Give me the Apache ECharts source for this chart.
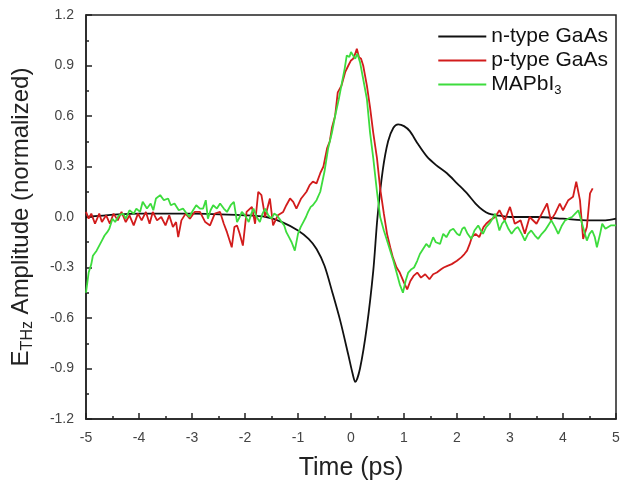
<!DOCTYPE html>
<html>
<head>
<meta charset="utf-8">
<script src="https://cdn.jsdelivr.net/npm/echarts@6/dist/echarts.min.js"></script>
<style>
  html, body { margin: 0; padding: 0; background: #fff; }
  #chart { width: 622px; height: 484px; }
</style>
</head>
<body>
<div id="chart"></div>
<script>
/* values */
var xTicks = [-5, -4, -3, -2, -1, 0, 1, 2, 3, 4, 5];
var yTicks = [-1.2, -0.9, -0.6, -0.3, 0.0, 0.3, 0.6, 0.9, 1.2];

var nTypeT = [-5, -4, -3, -2, -1.6, -1.3, -1.0, -0.8, -0.65, -0.5, -0.35, -0.2, -0.05, 0.03, 0.08, 0.17, 0.3, 0.42, 0.5, 0.6, 0.7, 0.8, 0.89, 1.0, 1.11, 1.25, 1.43, 1.6, 1.81, 2.0, 2.19, 2.35, 2.49, 2.6, 2.75, 3.0, 3.5, 4.0, 4.5, 4.8, 5.0];
var nTypeA = [0.0, 0.02, 0.02, 0.01, 0.0, -0.03, -0.08, -0.13, -0.19, -0.29, -0.45, -0.62, -0.82, -0.93, -0.98, -0.9, -0.65, -0.32, 0.0, 0.28, 0.45, 0.53, 0.55, 0.54, 0.51, 0.44, 0.36, 0.31, 0.26, 0.2, 0.14, 0.08, 0.04, 0.02, 0.01, 0.0, 0.0, -0.01, -0.02, -0.02, -0.01];

var pTypeT = [-5.0, -4.95, -4.9, -4.83, -4.75, -4.7, -4.62, -4.55, -4.48, -4.4, -4.33, -4.25, -4.18, -4.1, -4.02, -3.95, -3.87, -3.8, -3.74, -3.66, -3.58, -3.5, -3.43, -3.36, -3.3, -3.26, -3.2, -3.12, -3.04, -2.95, -2.85, -2.75, -2.66, -2.57, -2.47, -2.4, -2.34, -2.25, -2.2, -2.15, -2.1, -2.04, -1.97, -1.87, -1.81, -1.75, -1.69, -1.62, -1.53, -1.47, -1.38, -1.28, -1.22, -1.15, -1.09, -1.03, -0.94, -0.84, -0.78, -0.72, -0.65, -0.58, -0.52, -0.45, -0.4, -0.36, -0.3, -0.25, -0.18, -0.11, -0.05, 0.0, 0.04, 0.08, 0.11, 0.15, 0.19, 0.23, 0.3, 0.36, 0.42, 0.49, 0.55, 0.62, 0.68, 0.74, 0.79, 0.86, 0.92, 1.0, 1.06, 1.12, 1.18, 1.25, 1.32, 1.4, 1.48, 1.55, 1.62, 1.7, 1.75, 1.82, 1.9, 2.0, 2.08, 2.14, 2.19, 2.24, 2.28, 2.35, 2.42, 2.5, 2.55, 2.62, 2.72, 2.8, 2.9, 3.0, 3.09, 3.2, 3.28, 3.37, 3.5, 3.6, 3.7, 3.77, 3.85, 3.94, 4.0, 4.1, 4.19, 4.25, 4.32, 4.38, 4.45, 4.51, 4.56];
var pTypeA = [0.03, -0.01, 0.02, -0.04, 0.02, -0.03, 0.01, -0.04, 0.02, -0.02, 0.03, -0.03, 0.01, -0.05, 0.02, -0.02, 0.03, -0.04, 0.03, -0.02, 0.0, -0.05, 0.01, -0.06, -0.03, -0.12, -0.02, 0.02, -0.01, 0.03, 0.03, -0.03, -0.05, 0.02, 0.03, -0.04, -0.09, -0.18, -0.06, -0.05, -0.1, -0.17, 0.03, 0.06, -0.04, 0.15, 0.13, 0.0, 0.11, -0.05, 0.01, 0.03, 0.07, 0.11, 0.09, 0.05, 0.11, 0.15, 0.19, 0.21, 0.2, 0.26, 0.3, 0.41, 0.45, 0.53, 0.6, 0.74, 0.78, 0.86, 0.9, 0.93, 0.94, 0.97, 1.0, 0.95, 0.94, 0.9, 0.78, 0.65, 0.5, 0.35, 0.17, 0.02, -0.1, -0.18, -0.24, -0.3, -0.33, -0.39, -0.43, -0.38, -0.35, -0.33, -0.36, -0.34, -0.37, -0.34, -0.33, -0.31, -0.3, -0.29, -0.28, -0.26, -0.24, -0.22, -0.2, -0.16, -0.12, -0.1, -0.12, -0.06, -0.04, -0.02, 0.0, 0.04, -0.02, 0.06, -0.04, -0.02, -0.1, 0.0, -0.04, 0.02, 0.08, -0.02, 0.02, 0.08, 0.04, 0.1, 0.12, 0.21, 0.1, -0.13, -0.06, 0.14, 0.17];

var mapbiT = [-5.0, -4.95, -4.9, -4.87, -4.8, -4.75, -4.7, -4.65, -4.6, -4.56, -4.5, -4.45, -4.38, -4.3, -4.25, -4.18, -4.1, -4.05, -3.98, -3.93, -3.85, -3.78, -3.73, -3.68, -3.6, -3.53, -3.45, -3.4, -3.33, -3.25, -3.17, -3.1, -3.05, -2.98, -2.92, -2.85, -2.79, -2.74, -2.7, -2.65, -2.6, -2.53, -2.47, -2.4, -2.34, -2.27, -2.21, -2.15, -2.1, -2.06, -2.0, -1.93, -1.88, -1.84, -1.78, -1.72, -1.67, -1.62, -1.56, -1.5, -1.45, -1.4, -1.35, -1.31, -1.26, -1.22, -1.17, -1.12, -1.06, -1.0, -0.95, -0.9, -0.85, -0.81, -0.76, -0.72, -0.65, -0.58, -0.5, -0.43, -0.36, -0.3, -0.23, -0.17, -0.12, -0.08, -0.03, 0.0, 0.04, 0.08, 0.12, 0.17, 0.23, 0.3, 0.36, 0.42, 0.49, 0.55, 0.62, 0.68, 0.74, 0.8, 0.86, 0.92, 0.98, 1.03, 1.08, 1.14, 1.19, 1.25, 1.3, 1.36, 1.42, 1.48, 1.55, 1.6, 1.68, 1.74, 1.8, 1.87, 1.93, 2.0, 2.05, 2.1, 2.14, 2.2, 2.27, 2.33, 2.4, 2.45, 2.49, 2.55, 2.61, 2.67, 2.72, 2.76, 2.8, 2.85, 2.9, 2.97, 3.03, 3.1, 3.15, 3.22, 3.28, 3.34, 3.4, 3.47, 3.53, 3.6, 3.66, 3.72, 3.78, 3.85, 3.91, 3.98, 4.04, 4.1, 4.17, 4.23, 4.29, 4.36, 4.45, 4.5, 4.55, 4.6, 4.64, 4.7, 4.74, 4.8, 4.83, 4.9, 4.93, 5.0];
var mapbiA = [-0.45, -0.33, -0.28, -0.23, -0.2, -0.17, -0.14, -0.11, -0.09, -0.07, -0.01, -0.03, 0.01, 0.02, -0.01, 0.04, 0.02, 0.05, 0.03, 0.09, 0.05, 0.08, 0.04, 0.11, 0.13, 0.1, 0.11, 0.07, 0.08, 0.04, 0.05, 0.02, 0.0, 0.04, 0.07, 0.05, 0.05, 0.1, -0.01, 0.04, 0.07, 0.05, 0.08, 0.05, 0.03, 0.07, 0.09, -0.03, 0.0, 0.03, 0.01, -0.03, 0.02, 0.05, 0.0, -0.03, 0.02, 0.05, 0.01, -0.01, 0.02, 0.01, -0.01, -0.03, -0.05, -0.09, -0.12, -0.15, -0.2, -0.1, -0.06, -0.03, 0.0, 0.03, 0.06, 0.07, 0.1, 0.15, 0.27, 0.41, 0.5, 0.6, 0.7, 0.8, 0.88, 0.96, 0.95, 0.98, 0.96, 0.94, 0.97, 0.92, 0.82, 0.7, 0.5, 0.35, 0.15, 0.0, -0.08, -0.14, -0.2, -0.26, -0.33, -0.4, -0.45, -0.38, -0.33, -0.31, -0.3, -0.26, -0.22, -0.19, -0.16, -0.18, -0.12, -0.15, -0.16, -0.1, -0.12, -0.08, -0.07, -0.1, -0.11, -0.07, -0.06, -0.1, -0.13, -0.08, -0.05, -0.08, -0.1, -0.06, -0.04, -0.01, 0.02, -0.03, -0.08, -0.04, -0.02, -0.07, -0.1, -0.07, -0.06, -0.1, -0.14, -0.1, -0.08, -0.11, -0.13, -0.1, -0.08, -0.05, -0.02, -0.06, -0.1, -0.05, -0.02, -0.01, 0.0, 0.02, 0.04, -0.04, -0.14, -0.1, -0.08, -0.12, -0.18, -0.1, -0.04, -0.07, -0.08, -0.05, -0.04, -0.05];

function pairs(t, a) {
  var out = [];
  for (var i = 0; i < t.length; i++) out.push([t[i], a[i]]);
  return out;
}

var FONT = '"Liberation Sans", Arial, sans-serif';
var myChart = echarts.init(document.getElementById('chart'));

var option = {
  animation: false,
  backgroundColor: '#fff',
  textStyle: { fontFamily: FONT },
  grid: {
    left: 86, right: 6, top: 15, bottom: 65,
    outerBoundsMode: 'none',
    show: true, borderColor: '#222', borderWidth: 1.5
  },
  legend: {
    orient: 'vertical',
    right: 9, top: 21,
    icon: 'rect',
    itemWidth: 48, itemHeight: 2, itemGap: 3,
    textStyle: {
      fontFamily: FONT, fontSize: 21, color: '#111',
      rich: {
        b: { fontFamily: FONT, fontSize: 21, color: '#111' },
        sub: { fontFamily: FONT, fontSize: 13, color: '#111', verticalAlign: 'bottom', padding: [11, 0, 0, 0] }
      }
    },
    formatter: function (name) {
      if (name === 'MAPbI3') return '{b|MAPbI}{sub|3}';
      return name;
    },
    data: ['n-type GaAs', 'p-type GaAs', 'MAPbI3']
  },
  xAxis: {
    type: 'value',
    min: xTicks[0], max: xTicks[xTicks.length - 1], interval: 1,
    name: 'Time (ps)',
    nameLocation: 'middle', nameGap: 37,
    nameTextStyle: { fontFamily: FONT, fontSize: 25, color: '#222' },
    axisLine: { show: true, onZero: false, lineStyle: { color: '#222', width: 1.5 } },
    axisTick: { show: true, inside: true, length: 6, lineStyle: { color: '#222', width: 1.5 } },
    minorTick: { show: true, splitNumber: 2, length: 3, lineStyle: { color: '#222', width: 1.5 } },
    splitLine: { show: false },
    axisLabel: { fontFamily: FONT, fontSize: 14, color: '#444', margin: 12 }
  },
  yAxis: {
    type: 'value',
    min: yTicks[0], max: yTicks[yTicks.length - 1], interval: 0.3,
    name: 'E{sub|THz} Amplitude (normalized)',
    nameLocation: 'middle', nameGap: 50, nameRotate: 90,
    nameTextStyle: {
      fontFamily: FONT, fontSize: 24, color: '#222',
      rich: {
        sub: { fontFamily: FONT, fontSize: 16, color: '#222', verticalAlign: 'bottom', padding: [13, 0, 0, 0] }
      }
    },
    axisLine: { show: true, onZero: false, lineStyle: { color: '#222', width: 1.5 } },
    axisTick: { show: true, inside: true, length: 6, lineStyle: { color: '#222', width: 1.5 } },
    minorTick: { show: true, splitNumber: 2, length: 3, lineStyle: { color: '#222', width: 1.5 } },
    splitLine: { show: false },
    axisLabel: {
      fontFamily: FONT, fontSize: 14, color: '#444', margin: 12,
      formatter: function (v) { return v.toFixed(1); }
    }
  },
  series: [
    {
      name: 'n-type GaAs', type: 'line', data: pairs(nTypeT, nTypeA),
      symbol: 'none', smooth: 0.3,
      lineStyle: { color: '#111', width: 1.8 }, itemStyle: { color: '#111' }, z: 3
    },
    {
      name: 'p-type GaAs', type: 'line', data: pairs(pTypeT, pTypeA),
      symbol: 'none',
      lineStyle: { color: '#d21c1c', width: 1.8 }, itemStyle: { color: '#d21c1c' }, z: 4
    },
    {
      name: 'MAPbI3', type: 'line', data: pairs(mapbiT, mapbiA),
      symbol: 'none',
      lineStyle: { color: '#3ddc3d', width: 1.8 }, itemStyle: { color: '#3ddc3d' }, z: 5
    }
  ]
};

myChart.setOption(option);
</script>
</body>
</html>
